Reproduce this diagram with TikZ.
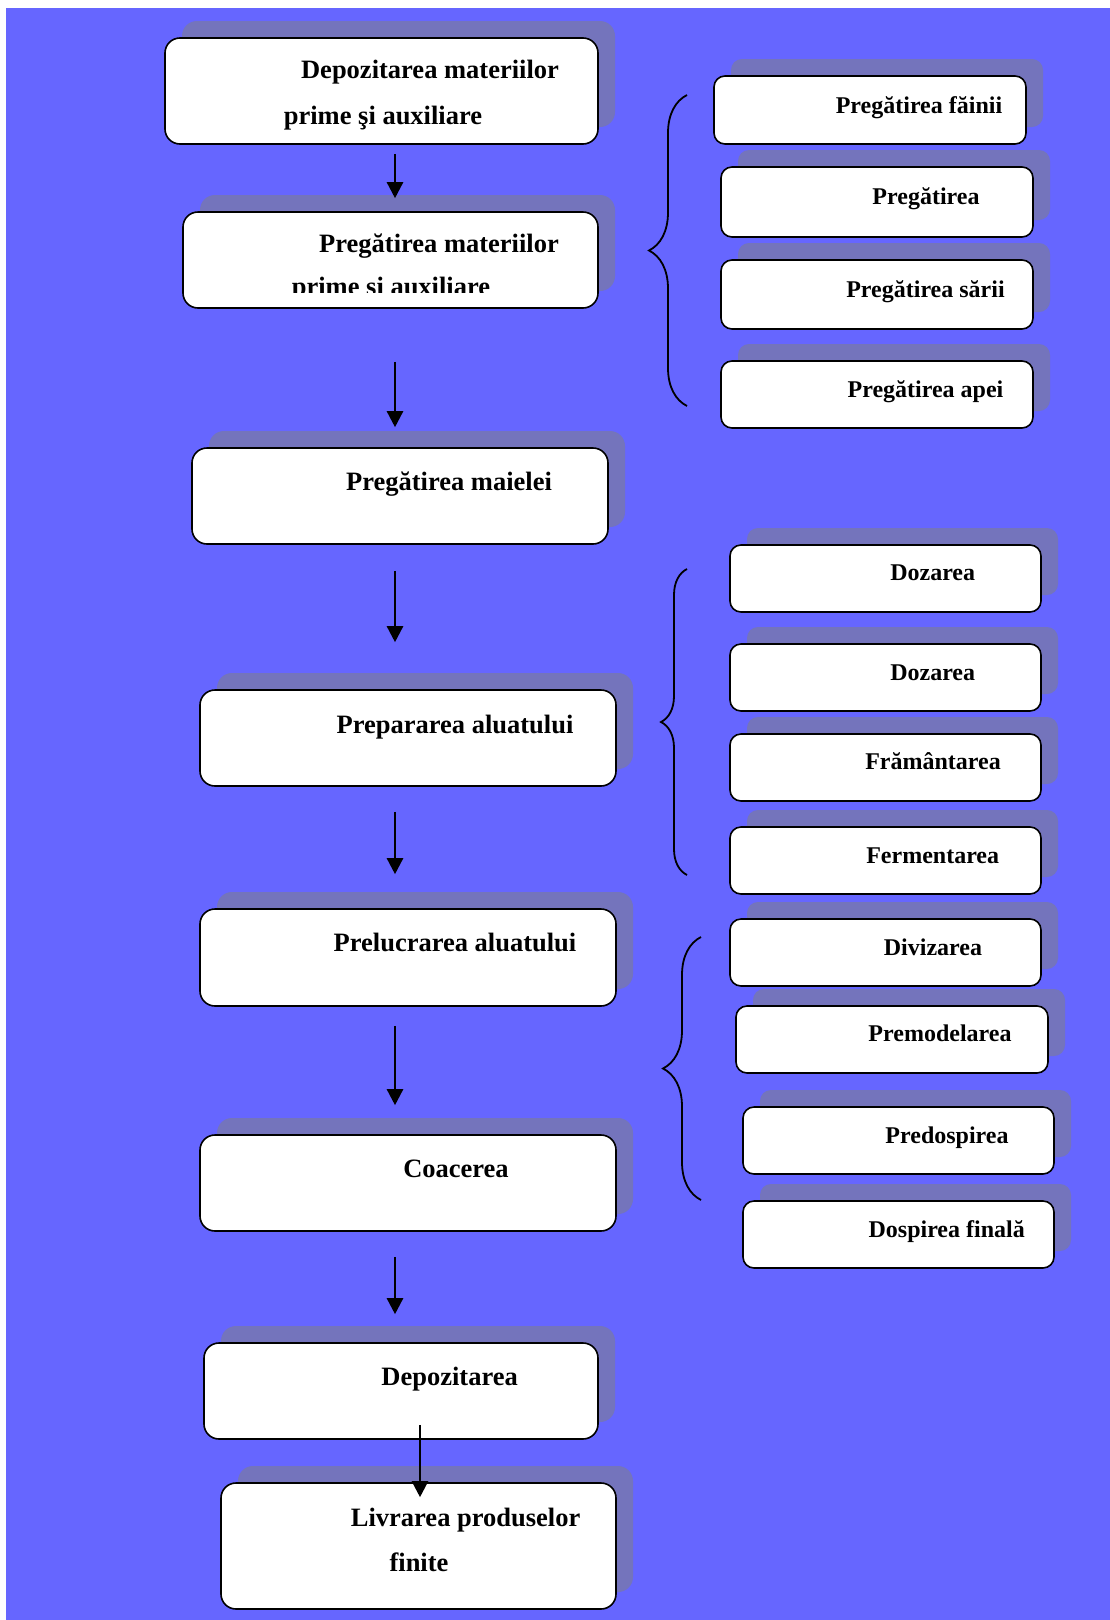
\documentclass[tikz,border=0pt]{standalone}
\usepackage{fontspec}
\setmainfont{Liberation Serif}
\usetikzlibrary{arrows.meta, positioning, shadows, decorations.pathreplacing}

\definecolor{sheet}{RGB}{102,102,255}
\definecolor{shade}{RGB}{116,116,188}

\tikzset{
    stepbox/.style = {draw, rectangle, line width=1.6pt, fill=white, inner sep=0pt,
        drop shadow={shadow xshift=17pt, shadow yshift=17pt, fill=shade, opacity=1}},
    mainbox/.style = {stepbox, rounded corners=15pt, minimum width=416pt, minimum height=96pt},
    subbox/.style = {stepbox, rounded corners=11pt, minimum width=312pt, minimum height=67pt},
    bigtext/.style = {font=\fontsize{26.5}{32}\selectfont\bfseries, inner sep=0pt, anchor=base},
    smalltext/.style = {font=\fontsize{24}{29}\selectfont\bfseries, inner sep=0pt, anchor=base},
    flow/.style = {-{Triangle[length=16pt, width=16pt]}, line width=2.5pt},
    group/.style = {decorate, decoration={brace, amplitude=#1}, line width=1.8pt}
}

\begin{document}
\begin{tikzpicture}[x=1pt, y=-1pt]

    % Page
    \useasboundingbox (0,0) rectangle (1110,1620);
    \fill[white] (0,0) rectangle (1110,1620);
    \fill[sheet] (6,8) rectangle (1110,1620);

    % Main line of the process
    \node[mainbox, minimum width=433pt, minimum height=106pt] (b1) at (381.5,91) {};
    \node[mainbox, minimum width=415pt] (b2) at (390.5,260) {};
    \node[mainbox] (b3) at (400,496) {};
    \node[mainbox] (b4) at (408,738) {};
    \node[mainbox, minimum height=97pt] (b5) at (408,957.5) {};
    \node[mainbox] (b6) at (408,1183) {};
    \node[mainbox, minimum width=394pt] (b7) at (401,1391) {};
    \node[mainbox, minimum width=395pt, minimum height=126pt] (b8) at (418.5,1546) {};

    \node[bigtext] (t1a) at (430,78) {Depozitarea materiilor};
    \node[bigtext] (t1b) at (383,124) {prime şi auxiliare};
    \node[bigtext] (t2a) at (439,252) {Pregătirea materiilor};
    \begin{scope}
        \clip (200,240) rectangle (580,292);
        \node[bigtext] (t2b) at (391,295) {prime şi auxiliare};
    \end{scope}
    \node[bigtext] (t3) at (449,490) {Pregătirea maielei};
    \node[bigtext] (t4) at (455,733.5) {Prepararea aluatului};
    \node[bigtext] (t5) at (455,951.5) {Prelucrarea aluatului};
    \node[bigtext] (t6) at (456,1177) {Coacerea};
    \node[bigtext] (t7) at (449.6,1385.6) {Depozitarea};
    \node[bigtext] (t8a) at (465.6,1526) {Livrarea produselor};
    \node[bigtext] (t8b) at (419,1571.6) {finite};

    % Raw materials
    \node[subbox, minimum height=68pt] (r1) at (870,110) {};
    \node[subbox, minimum height=70pt] (r2) at (877,202) {};
    \node[subbox, minimum height=69pt] (r3) at (877,294.5) {};
    \node[subbox] (r4) at (877,394.5) {};
    \node[smalltext] (s1) at (919,113) {Pregătirea făinii};
    \node[smalltext] (s2) at (926,204) {Pregătirea};
    \node[smalltext] (s3) at (925.5,297) {Pregătirea sării};
    \node[smalltext] (s4) at (925.5,397.6) {Pregătirea apei};
    \draw[group=38pt] (687,406) -- (687,95);

    % Dough
    \node[subbox, minimum width=311pt] (d1) at (885.5,578.5) {};
    \node[subbox, minimum width=311pt] (d2) at (885.5,677.5) {};
    \node[subbox, minimum width=311pt] (d3) at (885.5,767.5) {};
    \node[subbox, minimum width=311pt] (d4) at (885.5,860.5) {};
    \node[smalltext] (s5) at (932.7,580.6) {Dozarea};
    \node[smalltext] (s6) at (932.7,680.8) {Dozarea};
    \node[smalltext] (s7) at (933,769.7) {Frământarea};
    \node[smalltext] (s8) at (932.7,863.7) {Fermentarea};
    \draw[group=26pt] (687,875) -- (687,569);

    % Shaping
    \node[subbox, minimum width=311pt] (p1) at (885.5,952.5) {};
    \node[subbox] (p2) at (892,1039.5) {};
    \node[subbox, minimum width=311pt] (p3) at (898.5,1140.5) {};
    \node[subbox, minimum width=311pt] (p4) at (898.5,1234.5) {};
    \node[smalltext] (s9) at (933,955.7) {Divizarea};
    \node[smalltext] (s10) at (940,1041.5) {Premodelarea};
    \node[smalltext] (s11) at (947,1143.8) {Predospirea};
    \node[smalltext] (s12) at (946.7,1237.9) {Dospirea finală};
    \draw[group=38pt] (701,1200) -- (701,937);

    % Arrows
    \coordinate (spine) at (395,0);
    \coordinate (drop) at (420,0);
    \draw[flow, shorten <=9pt, shorten >=13pt] (b1.south -| spine) -- (b2.north -| spine);
    \draw[flow, shorten <=53pt, shorten >=20pt] (b2.south -| spine) -- (b3.north -| spine);
    \draw[flow, shorten <=26pt, shorten >=47pt] (b3.south -| spine) -- (b4.north -| spine);
    \draw[flow, shorten <=25pt, shorten >=34pt] (b4.south -| spine) -- (b5.north -| spine);
    \draw[flow, shorten <=19pt, shorten >=29pt] (b5.south -| spine) -- (b6.north -| spine);
    \draw[flow, shorten <=25pt, shorten >=28pt] (b6.south -| spine) -- (b7.north -| spine);
    \draw[flow, shorten <=-15pt, shorten >=-15pt] (b7.south -| drop) -- (b8.north -| drop);

\end{tikzpicture}
\end{document}
